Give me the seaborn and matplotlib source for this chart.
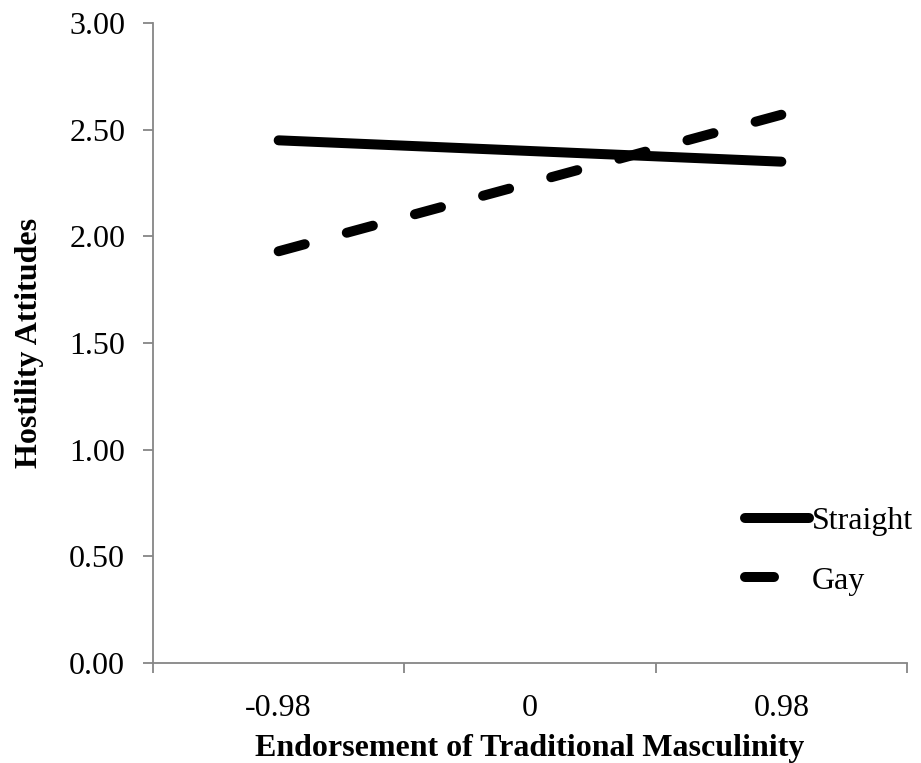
import pandas as pd
import numpy as np
import matplotlib.pyplot as plt
import seaborn as sns

sns.set_theme(style="white")
plt.rcParams['font.family'] = ['Liberation Serif', 'DejaVu Serif']
plt.rcParams['text.color'] = 'black'
plt.rcParams['axes.labelcolor'] = 'black'

# data
masculinity = ['-0.98', '0', '0.98']
straight = [2.45, 2.40, 2.35]
gay = [1.93, 2.25, 2.57]
groups = ['Straight', 'Gay']
y_ticks = [0.0, 0.5, 1.0, 1.5, 2.0, 2.5, 3.0]

df = pd.DataFrame({
    'x': masculinity * 2,
    'y': straight + gay,
    'group': [groups[0]] * 3 + [groups[1]] * 3,
})

axis_grey = '#868686'
lw = 7.2

fig = plt.figure(figsize=(9.21, 7.63), dpi=100)
ax = fig.add_axes([153 / 921, 100 / 763, 754 / 921, 640 / 763])

sns.lineplot(data=df, x='x', y='y', hue='group', style='group',
             palette={'Straight': 'black', 'Gay': 'black'},
             dashes={'Straight': '', 'Gay': (2.7, 4.36)},
             linewidth=lw, ax=ax, legend=False, sort=False)
for ln in ax.lines:
    ln.set_solid_capstyle('round')
    ln.set_dash_capstyle('round')

ax.set_xlim(-0.5, 2.5)
ax.set_ylim(0, 3)
ax.set_yticks(y_ticks)
ax.set_yticklabels([f'{v:.2f}' for v in y_ticks])
ax.set_xticks([0, 1, 2])
ax.set_xticklabels(masculinity)
ax.set_xticks([-0.5, 0.5, 1.5, 2.5], minor=True)
ax.tick_params(axis='x', which='major', length=0, labelsize=23, pad=22,
               labelcolor='black')
ax.tick_params(axis='x', which='minor', length=7, width=1.3, color=axis_grey,
               direction='out', bottom=True)
ax.tick_params(axis='y', length=7, width=1.3, color=axis_grey, direction='out',
               left=True, labelsize=23, pad=13, labelcolor='black')

for side in ['top', 'right']:
    ax.spines[side].set_visible(False)
for side in ['left', 'bottom']:
    ax.spines[side].set_color(axis_grey)
    ax.spines[side].set_linewidth(1.3)

ax.set_xlabel('Endorsement of Traditional Masculinity', fontsize=23,
              fontweight='bold', labelpad=8)
ax.set_ylabel('Hostility Attitudes', fontsize=23, fontweight='bold', labelpad=18)

handles = [plt.Line2D([], [], color='black', lw=lw, solid_capstyle='round'),
           plt.Line2D([], [], color='black', lw=lw, dashes=(2.9, 10),
                      dash_capstyle='round')]
fig.legend(handles, groups, loc='center left', bbox_to_anchor=(716 / 921, 1 - 551 / 763),
           bbox_transform=fig.transFigure, frameon=False, fontsize=23,
           handlelength=2.0, handletextpad=0.1, labelspacing=0.95)

fig.savefig('out.png', dpi=100)
